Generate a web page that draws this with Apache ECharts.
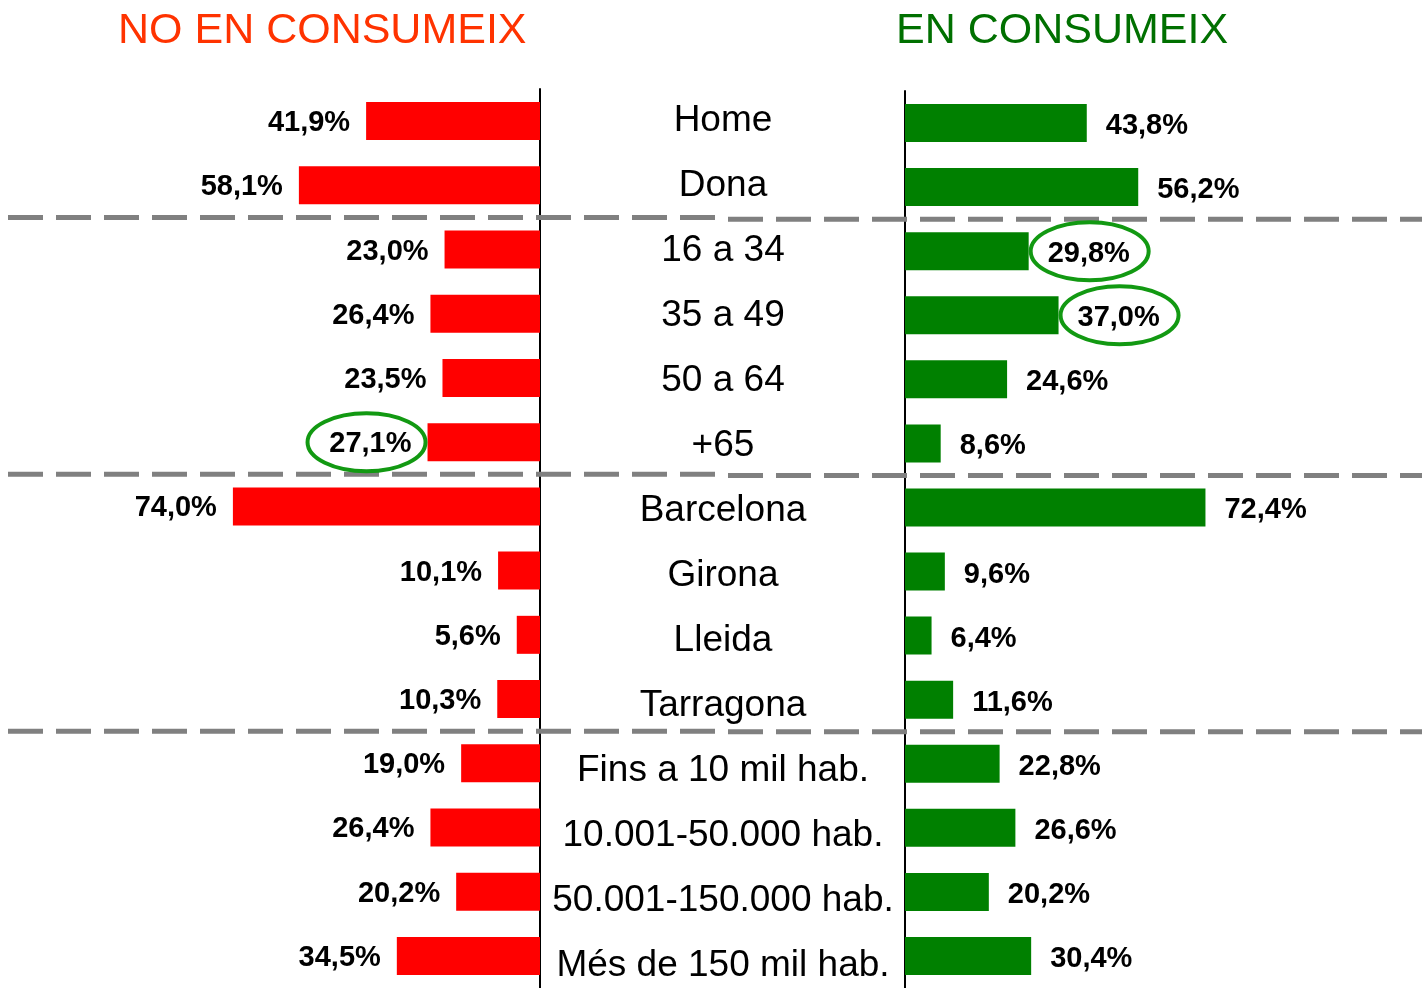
<!DOCTYPE html>
<html>
<head>
<meta charset="utf-8">
<script src="https://cdn.jsdelivr.net/npm/echarts@6/dist/echarts.min.js"></script>
<style>
html,body{margin:0;padding:0;background:#fff;}
#main{width:1422px;height:988px;}
</style>
</head>
<body>
<div id="main"></div>
<script>
// ---- data ----
var categories = ['Home','Dona','16 a 34','35 a 49','50 a 64','+65','Barcelona','Girona','Lleida','Tarragona','Fins a 10 mil hab.','10.001-50.000 hab.','50.001-150.000 hab.','Més de 150 mil hab.'];
var noConsumeix = [41.9,58.1,23.0,26.4,23.5,27.1,74.0,10.1,5.6,10.3,19.0,26.4,20.2,34.5];
var enConsumeix = [43.8,56.2,29.8,37.0,24.6,8.6,72.4,9.6,6.4,11.6,22.8,26.6,20.2,30.4];
var titleLeft = 'NO EN CONSUMEIX';
var titleRight = 'EN CONSUMEIX';
var groupBreaks = [2,6,10];            // separator before these category indexes
var highlightLeft = [5];              // circled labels on left chart
var highlightRight = [2,3];           // circled labels on right chart

var FONT = '"Liberation Sans", Arial, sans-serif';
function fmt(p){ return p.value.toFixed(1).replace('.', ',') + '%'; }

var chart = echarts.init(document.getElementById('main'), null, {renderer:'canvas'});
var option = {
  animation:false,
  backgroundColor:'#ffffff',
  title:[
    {text:titleLeft, left:113, top:5,
     textStyle:{fontFamily:FONT, fontSize:43, fontWeight:'normal', color:'#ff3300'}},
    {text:titleRight, left:891, top:5,
     textStyle:{fontFamily:FONT, fontSize:43, fontWeight:'normal', color:'#007000'}}
  ],
  grid:[
    {left:125, width:415, top:89, height:899},
    {left:905, width:415, top:91, height:899},
    {left:905, width:1, top:121, height:845}
  ],
  xAxis:[
    {gridIndex:0, type:'value', min:0, max:100, inverse:true, show:false},
    {gridIndex:1, type:'value', min:0, max:100, show:false},
    {gridIndex:2, type:'value', min:0, max:1, show:false}
  ],
  yAxis:[
    {gridIndex:0, type:'category', data:categories, inverse:true, position:'right',
     axisLine:{lineStyle:{color:'#000', width:2}},
     axisTick:{inside:true, length:6, lineStyle:{color:'#000', width:2}},
     axisLabel:{show:false}},
    {gridIndex:1, type:'category', data:categories, inverse:true, position:'left',
     axisLine:{lineStyle:{color:'#000', width:2}},
     axisTick:{length:6, lineStyle:{color:'#000', width:2}},
     axisLabel:{show:false}},
    {gridIndex:2, type:'category', data:categories, inverse:true, position:'left',
     boundaryGap:false,
     axisLine:{show:false}, axisTick:{show:false},
     axisLabel:{margin:182, align:'center', fontFamily:FONT, fontSize:37, color:'#000'}}
  ],
  series:[
    {type:'bar', xAxisIndex:0, yAxisIndex:0, data:noConsumeix, barWidth:38,
     itemStyle:{color:'#ff0000'},
     label:{show:true, position:'left', distance:16, offset:[0,2], formatter:fmt,
            fontFamily:FONT, fontSize:29, fontWeight:'bold', color:'#000'}},
    {type:'bar', xAxisIndex:1, yAxisIndex:1, data:enConsumeix, barWidth:38,
     itemStyle:{color:'#008000'},
     label:{show:true, position:'right', distance:19, offset:[0,3], formatter:fmt,
            fontFamily:FONT, fontSize:29, fontWeight:'bold', color:'#000'}}
  ]
};
chart.setOption(option);

// decorations computed from the library's scales
var graphics = [];
function yBoundary(axisIdx, i){
  var a = chart.convertToPixel({xAxisIndex:axisIdx, yAxisIndex:axisIdx}, [0, i-1])[1];
  var b = chart.convertToPixel({xAxisIndex:axisIdx, yAxisIndex:axisIdx}, [0, i])[1];
  return (a+b)/2;
}
groupBreaks.forEach(function(i){
  var yl = yBoundary(0, i), yr = yBoundary(1, i);
  graphics.push({type:'line', shape:{x1:8, y1:yl, x2:723, y2:yl}, z:10,
    style:{stroke:'#808080', lineWidth:5, lineDash:[35,13]}});
  graphics.push({type:'line', shape:{x1:723, y1:yr, x2:1422, y2:yr}, z:10,
    style:{stroke:'#808080', lineWidth:5, lineDash:[35,13], lineDashOffset:(723-8)%48}});
});
highlightLeft.forEach(function(i){
  var p = chart.convertToPixel({xAxisIndex:0, yAxisIndex:0}, [noConsumeix[i], i]);
  graphics.push({type:'ellipse', shape:{cx:p[0]-61, cy:p[1], rx:59, ry:29}, z:20,
    style:{fill:null, stroke:'#129912', lineWidth:4}});
});
highlightRight.forEach(function(i){
  var p = chart.convertToPixel({xAxisIndex:1, yAxisIndex:1}, [enConsumeix[i], i]);
  graphics.push({type:'ellipse', shape:{cx:p[0]+61, cy:p[1], rx:59, ry:29}, z:20,
    style:{fill:null, stroke:'#129912', lineWidth:4}});
});
chart.setOption({graphic:graphics});
</script>
</body>
</html>
